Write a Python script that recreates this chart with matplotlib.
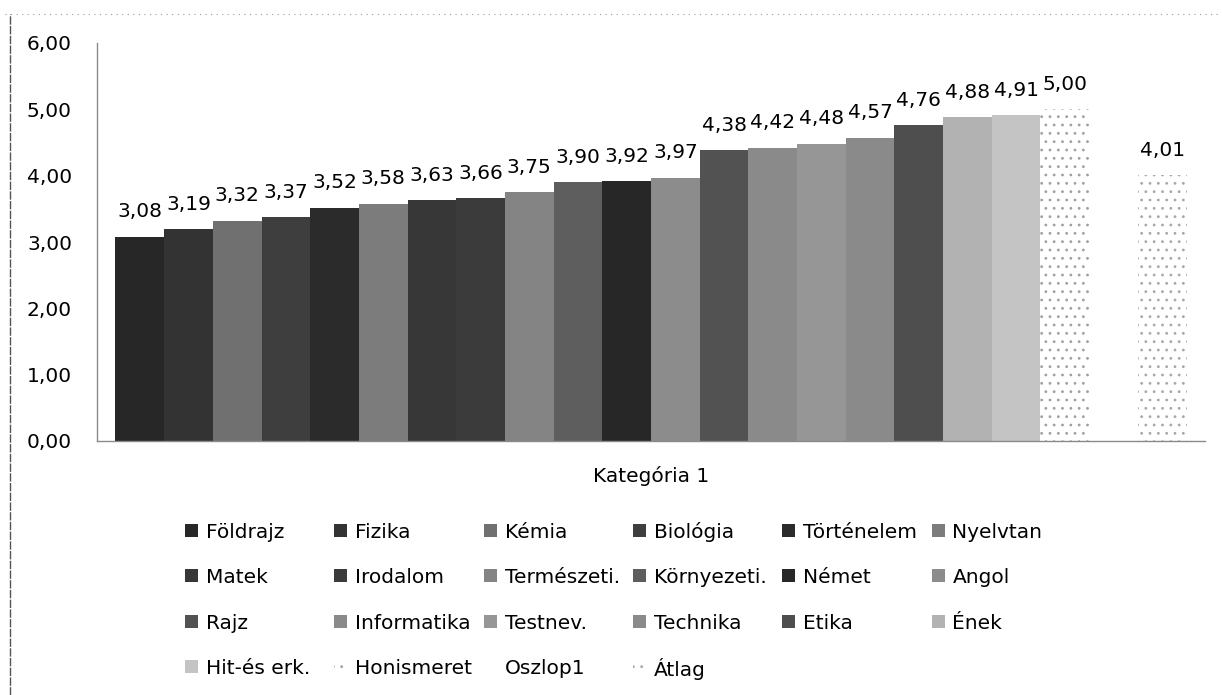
import numpy as np
import matplotlib
matplotlib.use("Agg")
import matplotlib.pyplot as plt
from matplotlib.patches import Rectangle
from matplotlib.lines import Line2D
from matplotlib.ticker import FuncFormatter

# ---- data ----
category = "Kategória 1"
series_names = ["Földrajz", "Fizika", "Kémia", "Biológia", "Történelem", "Nyelvtan",
                "Matek", "Irodalom", "Természeti.", "Környezeti.", "Német", "Angol",
                "Rajz", "Informatika", "Testnev.", "Technika", "Etika", "Ének",
                "Hit-és erk.", "Honismeret", "Oszlop1", "Átlag"]
series_values = [3.08, 3.19, 3.32, 3.37, 3.52, 3.58,
                 3.63, 3.66, 3.75, 3.90, 3.92, 3.97,
                 4.38, 4.42, 4.48, 4.57, 4.76, 4.88,
                 4.91, 5.00, None, 4.01]
y_ticks = [0, 1, 2, 3, 4, 5, 6]

# ---- styles ----
face_colors = ["#272727", "#333333", "#707070", "#3e3e3e", "#2b2b2b", "#7c7c7c",
               "#373737", "#3b3b3b", "#848484", "#5e5e5e", "#272727", "#8c8c8c",
               "#525252", "#8a8a8a", "#969696", "#8a8a8a", "#4e4e4e", "#b2b2b2",
               "#c4c4c4", "white", "white", "white"]
hatches = [None] * 19 + ["..", None, ".."]
hatch_edge = {19: "#a0a0a0", 21: "#a8a8a8"}

FS = 14.5
TXT = "#000000"
plt.rcParams['font.family'] = ['DejaVu Sans']
plt.rcParams['hatch.linewidth'] = 0.8

W, H = 1222, 695
fig = plt.figure(figsize=(W / 100, H / 100), dpi=100)
left_px, right_px, top_px, bot_px = 97, 1205, 43, 441
ax = fig.add_axes([left_px / W, 1 - bot_px / H, (right_px - left_px) / W, (bot_px - top_px) / H])

n = len(series_names)
xs = np.arange(n)
for i, (name, val) in enumerate(zip(series_names, series_values)):
    if val is None:
        continue
    kw = dict(width=1.0, color=face_colors[i], linewidth=0)
    if hatches[i]:
        kw.update(hatch=hatches[i], edgecolor=hatch_edge[i])
    ax.bar(xs[i], val, **kw)
    ax.annotate(f"{val:.2f}".replace(".", ","), (xs[i], val), xytext=(0, 14),
                textcoords="offset points", ha="center", va="baseline",
                fontsize=FS, color=TXT)

gap = 0.38
ax.set_xlim(-0.5 - gap, n - 0.5 + gap)
ax.set_ylim(0, 6)
ax.set_yticks(y_ticks)
ax.yaxis.set_major_formatter(FuncFormatter(lambda v, p: f"{v:.2f}".replace(".", ",")))
ax.tick_params(axis="y", length=0, pad=18, labelsize=FS, labelcolor=TXT)
ax.set_xticks([])
for s in ["top", "right"]:
    ax.spines[s].set_visible(False)
ax.spines["left"].set_color("#8a8a8a")
ax.spines["left"].set_linewidth(1.0)
ax.spines["bottom"].set_color("#8a8a8a")
ax.spines["bottom"].set_linewidth(1.0)

# category label
fig.text((left_px + right_px) / 2 / W, 1 - 476 / H, category, ha="center", va="center",
         fontsize=FS, color=TXT)

# legend (row-major, 6 columns, drawn like Excel)
x0, pitch_x = 185, 149.3
y0, pitch_y = 530, 45.6
msize = 13
for i, name in enumerate(series_names):
    r, c = divmod(i, 6)
    mx = x0 + c * pitch_x
    my = y0 + r * pitch_y
    if name != "Oszlop1":
        rect = Rectangle((mx / W, 1 - (my + msize / 2) / H), msize / W, msize / H,
                         transform=fig.transFigure, facecolor=face_colors[i], linewidth=0)
        if hatches[i]:
            rect.set_hatch(hatches[i])
            rect.set_edgecolor(hatch_edge[i])
        fig.add_artist(rect)
    fig.text((mx + 21) / W, 1 - my / H, name, ha="left", va="center_baseline",
             fontsize=FS, color=TXT)

# outer chart border (scanned)
fig.add_artist(Line2D([10 / W, 10 / W], [0, 1 - 14 / H], transform=fig.transFigure,
                      color="#555555", lw=1.0, linestyle=(0, (6, 1))))
fig.add_artist(Line2D([5 / W, 1], [1 - 14 / H, 1 - 14 / H], transform=fig.transFigure,
                      color="#9a9a9a", lw=0.8, linestyle=(0, (1, 4))))

fig.savefig("out.png", dpi=100)
